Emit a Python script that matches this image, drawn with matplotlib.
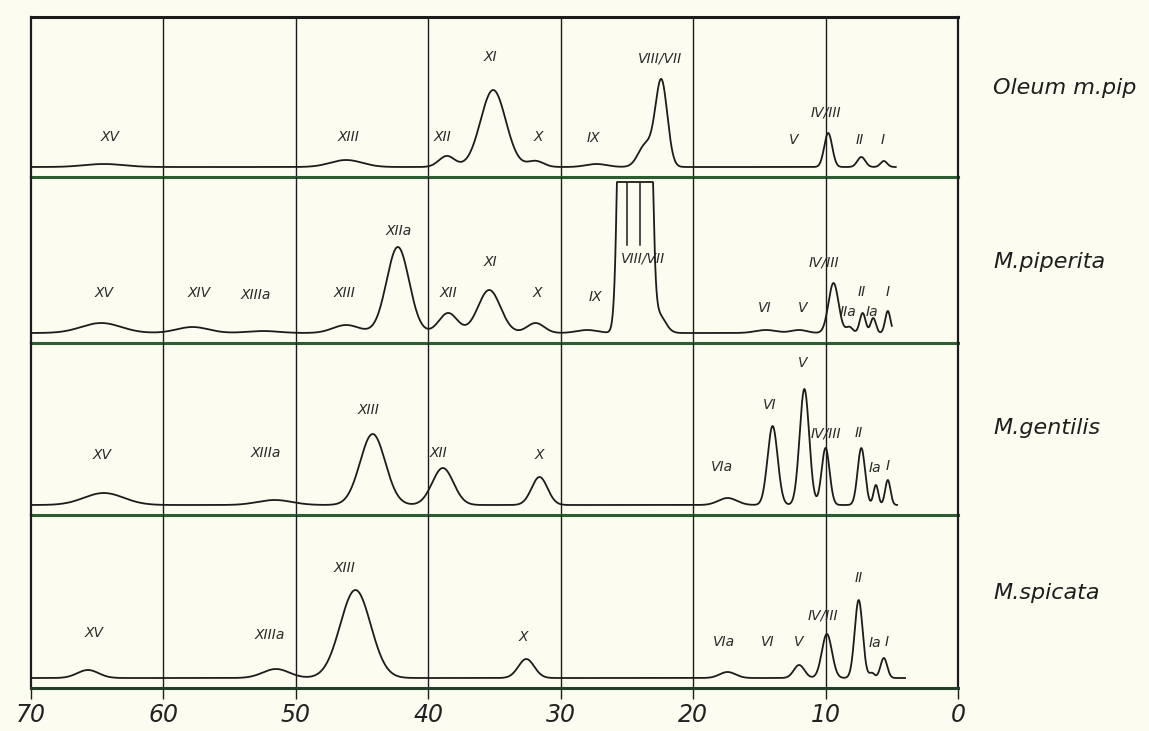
import numpy as np
import matplotlib
matplotlib.use("Agg")
import matplotlib.pyplot as plt

# ---------------- data ----------------
x_tick_values = [70, 60, 50, 40, 30, 20, 10, 0]
x_tick_labels = ["70", "60", "50", "40", "30", "20", "10", "0"]
sample_names = ["Oleum m.pip", "M.piperita", "M.gentilis", "M.spicata"]

# peak tables: position (scale units), height (trace units), width (sigma)
oleum_pos = [64.5, 46.2, 38.6, 35.1, 31.9, 27.3, 23.6, 22.4, 9.8, 7.3, 5.6]
oleum_height = [3, 7, 11, 77, 6, 3, 22, 86, 34, 10, 6]
oleum_sigma = [1.5, 1.2, 0.6, 0.95, 0.6, 0.8, 0.55, 0.45, 0.3, 0.3, 0.25]

piperita_pos = [64.7, 57.8, 52.5, 46.2, 42.3, 38.5, 35.4, 31.9, 28.0, 25.1, 23.7, 22.6,
                14.5, 12.0, 9.4, 8.2, 7.2, 6.4, 5.3]
piperita_height = [10, 6, 2, 8, 86, 20, 43, 10, 3, 900, 900, 18,
                   3, 3, 50, 6, 20, 15, 22]
piperita_sigma = [1.5, 1.2, 1.2, 1.0, 0.85, 0.7, 0.85, 0.65, 0.8, 0.35, 0.35, 0.5,
                  0.8, 0.6, 0.38, 0.25, 0.22, 0.2, 0.2]
piperita_recorder_limit = 151
piperita_pen_marks = [25.0, 24.0]
piperita_pen_mark_low = 88

gentilis_pos = [64.5, 51.6, 44.2, 38.9, 31.6, 17.4, 14.0, 11.6, 10.0, 7.3, 6.2, 5.3]
gentilis_height = [12, 5, 71, 37, 28, 7, 79, 116, 57, 57, 20, 25]
gentilis_sigma = [1.5, 1.3, 0.95, 0.8, 0.6, 0.7, 0.38, 0.36, 0.3, 0.28, 0.18, 0.2]

spicata_pos = [65.7, 51.5, 45.5, 32.6, 17.4, 12.0, 9.9, 7.5, 6.5, 5.6]
spicata_height = [8, 9, 88, 19, 6, 13, 44, 78, 5, 20]
spicata_sigma = [0.8, 1.0, 1.15, 0.6, 0.6, 0.4, 0.38, 0.3, 0.2, 0.25]

trace_end = [4.7, 5.0, 4.6, 4.0]

# peak labels
oleum_labels = ["XV", "XIII", "XII", "XI", "X", "IX", "VIII/VII", "V", "IV/III", "II", "I"]
piperita_labels = ["XV", "XIV", "XIIIa", "XIII", "XIIa", "XII", "XI", "X", "IX", "VIII/VII",
                   "VI", "V", "IV/III", "IIa", "II", "Ia", "I"]
gentilis_labels = ["XV", "XIIIa", "XIII", "XII", "X", "VIa", "VI", "V", "IV/III", "II", "Ia", "I"]
spicata_labels = ["XV", "XIIIa", "XIII", "X", "VIa", "VI", "V", "IV/III", "II", "Ia", "I"]

# ---------------- layout ----------------
oleum_label_x = [64.0, 46.0, 38.9, 35.3, 31.7, 27.5, 22.5, 12.4, 10.0, 7.4, 5.7]
oleum_label_y = [40, 40, 40, 120, 40, 39, 119, 37, 64, 37, 37]
piperita_label_x = [64.5, 57.3, 53.0, 46.3, 42.2, 38.5, 35.3, 31.8, 27.4, 23.8,
                    14.6, 11.7, 10.1, 8.3, 7.3, 6.5, 5.3]
piperita_label_y = [50, 50, 48, 50, 112, 50, 81, 50, 46, 84, 35, 35, 80, 31, 51, 31, 51]
gentilis_label_x = [64.6, 52.3, 44.5, 39.2, 31.6, 17.8, 14.2, 11.7, 10.0, 7.5, 6.3, 5.3]
gentilis_label_y = [60, 62, 105, 62, 60, 48, 110, 152, 82, 82, 47, 49]
spicata_label_x = [65.2, 52.0, 46.3, 32.8, 17.7, 14.4, 12.0, 10.2, 7.5, 6.3, 5.4]
spicata_label_y = [55, 53, 120, 51, 46, 46, 46, 73, 110, 45, 46]

panel_heights = [160, 166, 172, 173]
baseline = 10
sample_name_y = [0.880, 0.641, 0.414, 0.189]

paper = "#fcfcf1"
ink = "#1c1c1c"
sep_color = "#2c5e31"

fig = plt.figure(figsize=(11.49, 7.31), dpi=100, facecolor=paper)
gs = fig.add_gridspec(4, 1, height_ratios=panel_heights, hspace=0,
                      left=31 / 1149, right=958 / 1149, top=1 - 17 / 731, bottom=1 - 688 / 731)
axes = [fig.add_subplot(gs[i, 0]) for i in range(4)]

peak_sets = [
    (oleum_pos, oleum_height, oleum_sigma),
    (piperita_pos, piperita_height, piperita_sigma),
    (gentilis_pos, gentilis_height, gentilis_sigma),
    (spicata_pos, spicata_height, spicata_sigma),
]
label_sets = [
    (oleum_labels, oleum_label_x, oleum_label_y),
    (piperita_labels, piperita_label_x, piperita_label_y),
    (gentilis_labels, gentilis_label_x, gentilis_label_y),
    (spicata_labels, spicata_label_x, spicata_label_y),
]

for i, ax in enumerate(axes):
    ax.patch.set_visible(False)
    ax.set_xlim(70, 0)
    ax.set_ylim(0, panel_heights[i])
    pos, hgt, sig = peak_sets[i]
    x = np.linspace(70, trace_end[i], 4000)
    y = np.zeros_like(x)
    for p, h, s in zip(pos, hgt, sig):
        y += h * np.exp(-0.5 * ((x - p) / s) ** 2)
    if i == 1:
        k = 2.5
        cap = piperita_recorder_limit
        y = cap - k * np.logaddexp(0, (cap - y) / k)
        for xm in piperita_pen_marks:
            ax.plot([xm, xm], [baseline + piperita_pen_mark_low, baseline + cap - 1],
                    color=ink, lw=1.1)
    ax.plot(x, baseline + y, color=ink, lw=1.3, solid_joinstyle="round", zorder=3)

    for gx in [60, 50, 40, 30, 20, 10]:
        ax.axvline(gx, color=ink, lw=1.0, zorder=1)

    txt, lx, ly = label_sets[i]
    for t, xx, yy in zip(txt, lx, ly):
        ax.text(xx, yy, t, ha="center", va="center", fontsize=10, style="italic",
                color="#2a2a2a", family="DejaVu Sans", zorder=4)

    ax.set_yticks([])
    for side in ["left", "right"]:
        ax.spines[side].set_color(ink)
        ax.spines[side].set_linewidth(1.6)
    ax.spines["top"].set_visible(i == 0)
    ax.spines["top"].set_color(ink)
    ax.spines["top"].set_linewidth(2.2)
    ax.spines["bottom"].set_color(sep_color if i < 3 else "#243f28")
    ax.spines["bottom"].set_linewidth(2.2)
    ax.spines["bottom"].set_zorder(5)

    if i < 3:
        ax.set_xticks([])
    else:
        ax.set_xticks(x_tick_values)
        ax.set_xticklabels(x_tick_labels, fontsize=17, style="italic", color="#222222")
        ax.tick_params(axis="x", direction="out", length=8, width=1.0, color=ink, pad=3)

    fig.text(993 / 1149, sample_name_y[i], sample_names[i], fontsize=16, style="italic",
             color="#1e1e1e", ha="left", va="center")

fig.savefig("out.png", dpi=100, facecolor=paper)
